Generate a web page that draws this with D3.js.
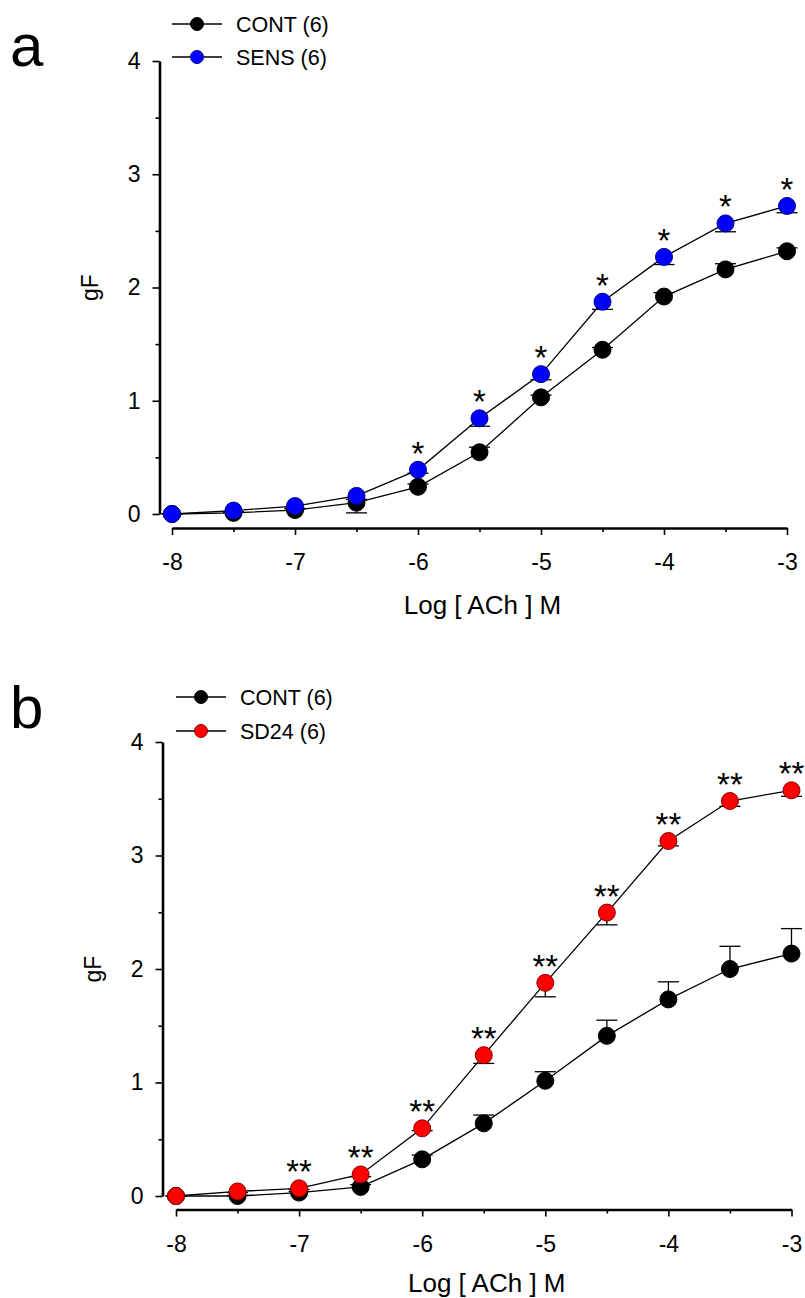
<!DOCTYPE html>
<html>
<head>
<meta charset="utf-8">
<script src="https://cdn.jsdelivr.net/npm/d3@7"></script>
<style>
  body { margin: 0; background: #fff; }
  text { font-family: "Liberation Sans", Arial, sans-serif; fill: #000; }
</style>
</head>
<body>
<script>
// log [ACh] M
const concentrations = [-8, -7.5, -7, -6.5, -6, -5.5, -5, -4.5, -4, -3.5, -3];
const xTicks = [-8, -7, -6, -5, -4, -3];
const xMinorTicks = [-7.5, -6.5, -5.5, -4.5, -3.5];
const yTicks = [0, 1, 2, 3, 4];
const yMinorTicks = [0.5, 1.5, 2.5, 3.5];

// panel a
const contA = [0, 0.01, 0.035, 0.10, 0.24, 0.545, 1.03, 1.45, 1.92, 2.16, 2.32];
const contAErr = [0, 0.005, 0.01, 0.03, 0.025, 0.045, 0.02, 0.02, 0.035, 0.05, 0.03];
const sensA = [0, 0.03, 0.07, 0.16, 0.39, 0.845, 1.235, 1.874, 2.27, 2.566, 2.72];
const sensAErr = [0, 0.01, 0.02, 0.15, 0.03, 0.07, 0.05, 0.067, 0.067, 0.074, 0.06];
const sigA = ["", "", "", "", "*", "*", "*", "*", "*", "*", "*"];

// panel b
const contB = [0, 0, 0.03, 0.08, 0.323, 0.64, 1.015, 1.411, 1.732, 2.0, 2.136];
const contBErr = [0, 0.005, 0.01, 0.02, 0.038, 0.073, 0.08, 0.138, 0.155, 0.2, 0.22];
const sd24B = [0, 0.04, 0.068, 0.19, 0.596, 1.241, 1.878, 2.497, 3.128, 3.48, 3.574];
const sd24BErr = [0, 0.01, 0.01, 0.02, 0.02, 0.073, 0.123, 0.108, 0.043, 0.047, 0.053];
const sigB = ["", "", "**", "**", "**", "**", "**", "**", "**", "**", "**"];

const width = 805, height = 1298;

const svg = d3.select("body")
    .append("svg")
    .attr("width", width)
    .attr("height", height);

const drawPanel = (p) => {
  const xScale = d3.scaleLinear().domain([-8, -3]).range([p.x0, p.x1]);
  const yScale = d3.scaleLinear().domain([0, 4]).range([p.y0, p.y1]);
  const g = svg.append("g");

  // panel letter
  g.append("text")
      .attr("x", 10).attr("y", p.letterY)
      .attr("font-size", 60)
      .text(p.letter);

  // x axis (offset below the plot)
  g.append("g")
      .attr("transform", "translate(0," + p.xAxisY + ")")
      .call(d3.axisBottom(xScale).tickValues(xTicks).tickSize(7).tickPadding(19)
          .tickFormat((d) => String(d)).tickSizeOuter(0));
  g.append("g")
      .attr("transform", "translate(0," + p.xAxisY + ")")
      .call(d3.axisBottom(xScale).tickValues(xMinorTicks).tickSize(4)
          .tickFormat("").tickSizeOuter(0))
      .select(".domain").remove();

  // y axis (offset left of the plot)
  g.append("g")
      .attr("transform", "translate(" + p.yAxisX + ",0)")
      .call(d3.axisLeft(yScale).tickValues(yTicks).tickSize(7).tickPadding(12)
          .tickFormat((d) => String(d)).tickSizeOuter(0));
  g.append("g")
      .attr("transform", "translate(" + p.yAxisX + ",0)")
      .call(d3.axisLeft(yScale).tickValues(yMinorTicks).tickSize(4)
          .tickFormat("").tickSizeOuter(0))
      .select(".domain").remove();

  g.selectAll(".domain").attr("stroke-width", 2.6);
  g.selectAll(".tick line").attr("stroke-width", 1.6);
  g.selectAll(".tick text")
      .style("font-size", "23px")
      .style("font-family", "Liberation Sans, Arial, sans-serif");

  // axis titles
  g.append("text")
      .attr("x", (p.x0 + p.x1) / 2 + 3).attr("y", p.titleY)
      .attr("text-anchor", "middle")
      .attr("font-size", 26)
      .text("Log [ ACh ] M");
  g.append("text")
      .attr("transform", "translate(" + (p.yAxisX - 62) + "," + ((p.y0 + p.y1) / 2) + ") rotate(-90)")
      .attr("text-anchor", "middle")
      .attr("font-size", 23)
      .text("gF");

  const rows = concentrations.map((c, i) => ({ c: c, i: i }));

  const drawSeries = (vals, errs, dir, fill, stroke) => {
    // error bars: CONT upward, treated downward
    const eb = g.append("g").attr("stroke", "#000").attr("stroke-width", 1.3);
    rows.forEach((r) => {
      const x = xScale(r.c);
      const yv = yScale(vals[r.i]);
      const ye = yScale(vals[r.i] + dir * errs[r.i]);
      eb.append("line").attr("x1", x).attr("x2", x).attr("y1", yv).attr("y2", ye);
      eb.append("line").attr("x1", x - 10.5).attr("x2", x + 10.5).attr("y1", ye).attr("y2", ye);
    });
    const line = d3.line().x((d) => xScale(d.c)).y((d) => yScale(vals[d.i]));
    g.append("path")
        .datum(rows)
        .attr("d", line)
        .attr("fill", "none")
        .attr("stroke", "#000")
        .attr("stroke-width", 1.3);
    g.append("g")
        .selectAll("circle")
        .data(rows)
        .enter()
        .append("circle")
        .attr("cx", (d) => xScale(d.c))
        .attr("cy", (d) => yScale(vals[d.i]))
        .attr("r", 8.5)
        .attr("fill", fill)
        .attr("stroke", stroke)
        .attr("stroke-width", 1);
  };

  drawSeries(p.cont, p.contErr, 1, "#000", "#000");
  drawSeries(p.treat, p.treatErr, -1, p.color, p.colorStroke);

  // significance marks
  g.append("g")
      .selectAll("text")
      .data(rows.filter((d) => p.sig[d.i] !== ""))
      .enter()
      .append("text")
      .attr("x", (d) => xScale(d.c))
      .attr("y", (d) => yScale(p.treat[d.i]) - 24 + 19)
      .attr("text-anchor", "middle")
      .attr("font-size", 33)
      .text((d) => p.sig[d.i]);

  // legend
  const leg = g.append("g");
  [{ label: "CONT (6)", fill: "#000", stroke: "#000", y: p.legY[0] },
   { label: p.treatLabel, fill: p.color, stroke: p.colorStroke, y: p.legY[1] }].forEach((l) => {
    leg.append("line")
        .attr("x1", p.legX).attr("x2", p.legX + 50)
        .attr("y1", l.y).attr("y2", l.y)
        .attr("stroke", "#000").attr("stroke-width", 1.3);
    leg.append("circle")
        .attr("cx", p.legX + 25).attr("cy", l.y).attr("r", 6.5)
        .attr("fill", l.fill).attr("stroke", l.stroke).attr("stroke-width", 1);
    leg.append("text")
        .attr("x", p.legX + 64).attr("y", l.y + 7.5)
        .attr("font-size", 21.5)
        .text(l.label);
  });
};

drawPanel({
  letter: "a", letterY: 66,
  x0: 172, x1: 787, y0: 514, y1: 61,
  xAxisY: 528, yAxisX: 159.5, titleY: 614,
  cont: contA, contErr: contAErr,
  treat: sensA, treatErr: sensAErr,
  sig: sigA, color: "#0000ff", colorStroke: "#00008b",
  treatLabel: "SENS (6)",
  legX: 172, legY: [24, 57]
});

drawPanel({
  letter: "b", letterY: 728,
  x0: 176, x1: 791.5, y0: 1196, y1: 742,
  xAxisY: 1209.5, yAxisX: 162.5, titleY: 1292,
  cont: contB, contErr: contBErr,
  treat: sd24B, treatErr: sd24BErr,
  sig: sigB, color: "#ff0000", colorStroke: "#8b0000",
  treatLabel: "SD24 (6)",
  legX: 176, legY: [697, 731]
});
</script>
</body>
</html>
